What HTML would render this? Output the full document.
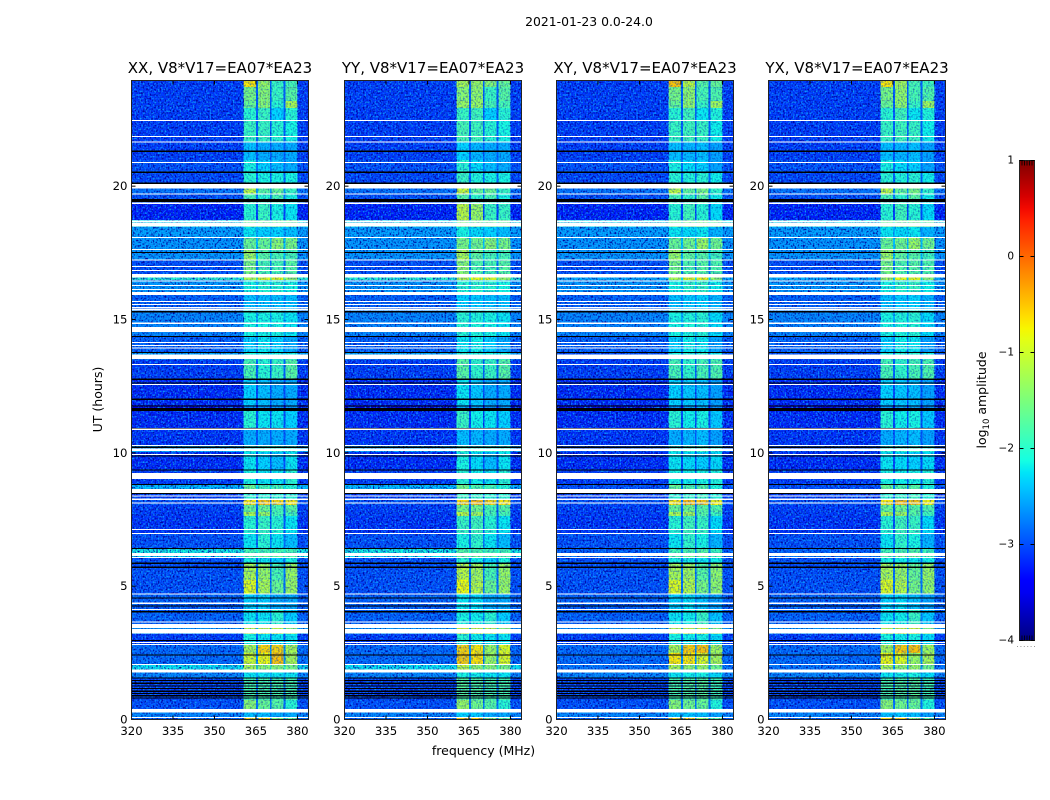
<!DOCTYPE html>
<html lang="en">
<head>
<meta charset="utf-8">
<title>2021-01-23 0.0-24.0</title>
<style>
html,body{margin:0;padding:0;background:#fff;}
svg{display:block;font-family:"DejaVu Sans","Liberation Sans",sans-serif;fill:#000;}
</style>
</head>
<body>
<svg id="chart" xmlns="http://www.w3.org/2000/svg" width="1050" height="800" viewBox="0 0 1050 800">
  <defs>
    <filter id="noise-dark" x="0" y="0" width="1" height="1" color-interpolation-filters="sRGB">
      <feTurbulence type="fractalNoise" baseFrequency="0.6 0.55" numOctaves="1" seed="3"/>
      <feColorMatrix type="matrix" values="0 0 0 0 0  0 0 0 0 0  0 0 0 0 0.6  3.4 0 0 0 -1.55"/>
    </filter>
    <filter id="noise-light" x="0" y="0" width="1" height="1" color-interpolation-filters="sRGB">
      <feTurbulence type="fractalNoise" baseFrequency="0.6 0.55" numOctaves="1" seed="11"/>
      <feColorMatrix type="matrix" values="0 0 0 0 0.05  0 0 0 0 0.62  0 0 0 0 1  0 3.4 0 0 -1.65"/>
    </filter>
    <linearGradient id="jet-gradient" x1="0" y1="1" x2="0" y2="0"></linearGradient>
  </defs>
  <text x="589" y="26" font-size="12.4" text-anchor="middle">2021-01-23 0.0-24.0</text>
  <text x="483.5" y="755" font-size="12.5" text-anchor="middle">frequency (MHz)</text>
  <text transform="translate(102,399.5) rotate(-90)" font-size="12.5" text-anchor="middle">UT (hours)</text>
  <text transform="translate(986,400) rotate(-90)" font-size="12.5" text-anchor="middle">log<tspan font-size="8.5" dy="3">10</tspan><tspan dy="-3"> amplitude</tspan></text>
  <g id="panels"></g>
  <g id="colorbar"></g>
</svg>
<script>
// Panels
const panelTitles = ["XX, V8*V17=EA07*EA23", "YY, V8*V17=EA07*EA23", "XY, V8*V17=EA07*EA23", "YX, V8*V17=EA07*EA23"];
const xTickValues = [320, 335, 350, 365, 380];
const yTickValues = [0, 5, 10, 15, 20];
const colorTickValues = [-4, -3, -2, -1, 0, 1];
const colorTickLabels = ["\u22124", "\u22123", "\u22122", "\u22121", "0", "1"];

// Frequency structure (MHz)
const bandStartMHz = [360.5, 365.7, 370.7, 375.7];
const bandEndMHz = [365.0, 370.0, 375.0, 380.0];

// Time segments (UT hours, lower edge) with log10 amplitude levels
const segmentStartUT = [0, 0.06, 0.28, 0.73, 1.55, 1.8, 2.04, 2.5, 2.8, 3.2, 3.43, 4.1, 4.7, 5.24, 5.87, 6.07, 6.2, 6.4, 7.0, 7.63, 7.78, 8.04, 8.23, 8.65, 8.8, 9.35, 10.03, 10.3, 10.9, 11.56, 11.8, 12.73, 13.5, 13.78, 14.38, 15.35, 15.92, 16.48, 16.67, 17.23, 17.64, 18.09, 18.47, 18.73, 19.36, 19.7, 19.93, 20.53, 20.98, 21.65, 22.47, 22.93, 23.2, 23.72];
const backgroundLevel = [-2.9, -2.7, -3, -3.05, -2.7, -2.2, -2.85, -2.85, -3.1, -2.6, -2.9, -2.9, -3, -3, -3, -2.2, -2.1, -3, -3.15, -3.1, -3.1, -3, -3.1, -2.4, -3.1, -3.2, -2.5, -3.15, -3.2, -3.6, -3.2, -3.1, -2.5, -2.9, -2.7, -2.9, -2.6, -2, -3, -2.6, -2.6, -2.55, -2.2, -3.25, -3, -2.8, -3.05, -3, -3.1, -3.1, -3.1, -3.1, -3.1, -3.1];
const band1Level = [-0.6, -2.4, -1.4, -1.8, -2.2, -1.2, -1, -1.2, -2.1, -1.1, -2.2, -2.3, -0.9, -1.2, -2.1, -1.7, -1.8, -2.2, -2, -1.2, -1.6, -0.7, -2, -1.6, -2.1, -2.2, -2, -2.5, -2, -2.6, -2.3, -1.8, -2.1, -2.3, -2.1, -2.4, -2.1, -1.2, -1.5, -1.3, -1.6, -2.2, -1.6, -2, -1.8, -1.1, -2, -2.1, -2.4, -1.9, -2, -1.6, -1.5, -0.7];
const band2Level = [-0.6, -2.4, -1.6, -1.8, -2.2, -1.4, -0.8, -0.6, -2.2, -1.1, -2.2, -2.3, -1.2, -1.3, -2.2, -1.6, -1.8, -2, -1.9, -1.3, -1.6, -0.5, -2, -1.8, -2.2, -2.3, -2, -2.5, -2.2, -2.6, -2.4, -2, -2.1, -2.2, -2.1, -2.4, -2, -0.9, -1.8, -1.7, -1.6, -2.3, -1.6, -1.9, -2, -1.7, -2.1, -2.3, -2.5, -1.9, -1.9, -1.4, -1.4, -1.3];
const band3Level = [-1.4, -2.5, -1.7, -1.8, -2.2, -1.4, -0.5, -0.6, -2.2, -1.1, -2, -2.5, -1.6, -1.8, -2.3, -1.6, -1.8, -2.2, -2, -1.8, -1.8, -0.6, -2, -1.8, -2.2, -2.4, -2, -2.5, -2.2, -2.6, -2.5, -1.9, -2.1, -2.3, -2.1, -2.4, -2, -0.9, -1.8, -1.8, -1.4, -2.3, -1.6, -2.1, -1.8, -1.6, -2.1, -2.4, -2.5, -2, -2.3, -2, -1.9, -1.9];
const band4Level = [-1.6, -2.5, -2, -1.8, -2.2, -1.5, -1.2, -1.2, -2.2, -1.4, -2.3, -2.5, -1.3, -1.3, -2.1, -1.7, -1.8, -2.4, -2.2, -1.8, -1.7, -0.7, -2, -2, -2, -2.2, -2, -2.5, -2.3, -2.6, -2.5, -1.7, -2.1, -2.5, -2.2, -2.4, -2.1, -1.3, -1.7, -1.8, -1.5, -2.4, -1.6, -2.2, -2.1, -1.9, -2.1, -2.5, -2.5, -2.1, -2, -1.2, -1.7, -1.8];

// Per-polarisation band offsets (log10 amplitude)
const polBandOffsetXX = [0, 0, 0, 0];
const polBandOffsetYY = [0.1, 0.05, 0, 0];
const polBandOffsetXY = [0, 0.05, 0.1, -0.05];
const polBandOffsetYX = [0, 0.05, 0.1, -0.05];
const polBandOffsets = [polBandOffsetXX, polBandOffsetYY, polBandOffsetXY, polBandOffsetYX];

// Polarisation-specific segments that differ from the XX reading
const overridePanel = [1, 1, 1, 1, 1, 2, 2, 3, 3];
const overrideSegmentUT = [23.72, 22.93, 18.73, 2.04, 2.5, 23.72, 2.04, 2.04, 5.24];
const overrideBand1 = [-1.2, -1.3, -1.1, -0.55, -0.6, -0.5, -0.7, -0.8, -1.2];
const overrideBand2 = [-1.3, -1.3, -1.3, -0.65, -0.7, -1.1, -0.7, -0.9, -1.3];
const overrideBand3 = [-1.4, -1.8, -1.9, -1.3, -1.3, -1.7, -0.9, -1.3, -1.6];
const overrideBand4 = [-1.6, -1.8, -1.9, -0.9, -0.9, -1.6, -1.2, -1.2, -1.3];

// Bright background rows are much weaker in the cross-polarisations
const crossPolPanels = [2, 3];
const crossPolRowUT = [1.8, 6.07, 6.2, 8.65, 10.03, 13.5, 16.48];
const crossPolRowBackground = [-2.8, -2.8, -2.9, -3, -3, -3, -2.5];

// Flagged (no data, white) intervals: lower edge and length in hours
const flaggedStartUT = [0.05, 0.27, 1.77, 2.04, 2.8, 2.86, 3.22, 3.43, 3.63, 4.11, 4.34, 4.68, 6.05, 6.14, 6.96, 7.11, 8.1, 8.24, 8.36, 8.5, 9.02, 9.21, 9.91, 10.06, 10.26, 10.86, 12.55, 13.3, 13.52, 13.91, 14, 14.11, 14.53, 14.84, 15.34, 15.42, 15.54, 15.65, 15.92, 16.11, 16.26, 16.43, 16.57, 16.81, 16.96, 17.21, 17.61, 18.06, 18.48, 18.64, 19.34, 19.68, 19.92, 20.86, 21.63, 21.85, 22.44];
const flaggedLengthH = [0.04, 0.12, 0.11, 0.04, 0.04, 0.04, 0.18, 0.16, 0.04, 0.04, 0.04, 0.04, 0.04, 0.1, 0.04, 0.04, 0.04, 0.04, 0.04, 0.14, 0.18, 0.04, 0.04, 0.1, 0.04, 0.05, 0.04, 0.04, 0.16, 0.04, 0.04, 0.04, 0.18, 0.04, 0.05, 0.04, 0.04, 0.04, 0.11, 0.04, 0.04, 0.04, 0.13, 0.04, 0.04, 0.04, 0.04, 0.04, 0.14, 0.075, 0.04, 0.04, 0.16, 0.04, 0.04, 0.04, 0.04];

// Near-zero (black) intervals: lower edge and length in hours
const blackStartUT = [0.78, 0.87, 0.96, 1.04, 1.14, 1.23, 1.34, 1.44, 1.53, 2.4, 2.95, 4.02, 4.24, 4.53, 5.69, 5.84, 6.4, 8.46, 8.79, 9.34, 9.86, 10.19, 10.89, 11.56, 11.74, 11.99, 12.6, 12.74, 13.75, 14.34, 15.26, 17.5, 19.41, 20.08, 20.49, 21.29];
const blackLengthH = [0.04, 0.04, 0.04, 0.04, 0.04, 0.04, 0.04, 0.04, 0.04, 0.04, 0.04, 0.04, 0.04, 0.04, 0.04, 0.04, 0.04, 0.04, 0.04, 0.04, 0.04, 0.04, 0.04, 0.12, 0.04, 0.04, 0.03, 0.04, 0.04, 0.04, 0.055, 0.04, 0.11, 0.055, 0.055, 0.04];

// Layout
const panelLefts = [131.5, 344.5, 556.5, 768.5];
const panelWidth = 177;
const plotTop = 80.5;
const plotBottom = 719.5;
const pixelsPerHour = 640 / 24;
const xMin = 320, xMax = 384, utMax = 24;
const levelMin = -4, levelMax = 1;
const cbLeft = 1019.5, cbRight = 1034.5, cbTop = 160.5, cbBottom = 640.5;
const SVG_NS = "http://www.w3.org/2000/svg";

function xScale(panelLeft, mhz) { return panelLeft + (mhz - xMin) / (xMax - xMin) * panelWidth; }
function yScale(ut) { return Math.max(plotTop, plotBottom - ut * pixelsPerHour); }
function cbScale(level) { return cbBottom - (level - levelMin) / (levelMax - levelMin) * (cbBottom - cbTop); }

function interp(stops, t) {
  for (let i = 1; i < stops.length; i++) {
    if (t <= stops[i][0]) {
      const a = stops[i - 1], b = stops[i];
      return a[1] + (b[1] - a[1]) * (t - a[0]) / (b[0] - a[0]);
    }
  }
  return stops[stops.length - 1][1];
}
const jetR = [[0, 0], [0.35, 0], [0.66, 1], [0.89, 1], [1, 0.5]];
const jetG = [[0, 0], [0.125, 0], [0.375, 1], [0.64, 1], [0.91, 0], [1, 0]];
const jetB = [[0, 0.5], [0.11, 1], [0.34, 1], [0.65, 0], [1, 0]];
function jet(t) {
  t = Math.max(0, Math.min(1, t));
  return "rgb(" + Math.round(interp(jetR, t) * 255) + "," + Math.round(interp(jetG, t) * 255) + "," + Math.round(interp(jetB, t) * 255) + ")";
}
function levelColor(level) { return jet((level - levelMin) / (levelMax - levelMin)); }

function svgEl(tag, attrs, parent) {
  const el = document.createElementNS(SVG_NS, tag);
  for (const k in attrs) el.setAttribute(k, attrs[k]);
  parent.appendChild(el);
  return el;
}

function segmentBands(panelIndex, segIndex) {
  let vals = [band1Level[segIndex], band2Level[segIndex], band3Level[segIndex], band4Level[segIndex]];
  for (let i = 0; i < overridePanel.length; i++) {
    if (overridePanel[i] === panelIndex && overrideSegmentUT[i] === segmentStartUT[segIndex]) {
      return [overrideBand1[i], overrideBand2[i], overrideBand3[i], overrideBand4[i]];
    }
  }
  const off = polBandOffsets[panelIndex];
  return vals.map(function (v, b) { return v + off[b]; });
}

function segmentBackground(panelIndex, segIndex) {
  if (crossPolPanels.indexOf(panelIndex) >= 0) {
    const r = crossPolRowUT.indexOf(segmentStartUT[segIndex]);
    if (r >= 0) return crossPolRowBackground[r];
  }
  return backgroundLevel[segIndex];
}

function drawNoise(g, x0, x1, opacity) {
  const dark = svgEl("rect", { x: x0, y: plotTop, width: x1 - x0, height: plotBottom - plotTop, filter: "url(#noise-dark)", opacity: opacity }, g);
  
  
  const light = svgEl("rect", { x: x0, y: plotTop, width: x1 - x0, height: plotBottom - plotTop, filter: "url(#noise-light)", opacity: opacity }, g);
  
  
}

function drawPanel(panelIndex) {
  const left = panelLefts[panelIndex];
  const right = left + panelWidth;
  const root = document.getElementById("panels");
  const g = svgEl("g", {}, root);
  
  

  const cells = svgEl("g", { "shape-rendering": "crispEdges" }, g);
  
  

  for (let s = 0; s < segmentStartUT.length; s++) {
    const t0 = segmentStartUT[s];
    const t1 = s + 1 < segmentStartUT.length ? segmentStartUT[s + 1] : utMax;
    const yTop = yScale(t1);
    const h = yScale(t0) - yTop;
    const bg = segmentBackground(panelIndex, s);
    const bands = segmentBands(panelIndex, s);
    const edges = [xMin];
    const levels = [];
    for (let b = 0; b < bandStartMHz.length; b++) {
      edges.push(bandStartMHz[b]);
      levels.push(b === 0 ? bg : Math.min(bg + 0.2, bands[b] - 0.2));
      edges.push(bandEndMHz[b]);
      levels.push(bands[b]);
    }
    levels.push(bg);
    edges.push(xMax);
    for (let c = 0; c < levels.length; c++) {
      const x0 = xScale(left, edges[c]);
      const x1 = xScale(left, edges[c + 1]);
      const cell = svgEl("rect", { x: x0, y: yTop, width: x1 - x0, height: h, fill: levelColor(levels[c]) }, cells);
      
      
    }
  }

  const bandsLeft = xScale(left, bandStartMHz[0]);
  const bandsRight = xScale(left, bandEndMHz[bandEndMHz.length - 1]);
  drawNoise(g, left, bandsLeft, 1);
  drawNoise(g, bandsLeft, bandsRight, 0.45);
  drawNoise(g, bandsRight, right, 1);

  const masks = svgEl("g", { "shape-rendering": "crispEdges" }, g);
  
  
  for (let i = 0; i < blackStartUT.length; i++) {
    const yT = yScale(blackStartUT[i] + blackLengthH[i]);
    const line = svgEl("rect", { x: left, y: yT, width: panelWidth, height: Math.max(1, yScale(blackStartUT[i]) - yT), fill: "#000" }, masks);
    
    
  }
  for (let i = 0; i < flaggedStartUT.length; i++) {
    const yT = yScale(flaggedStartUT[i] + flaggedLengthH[i]);
    const line = svgEl("rect", { x: left, y: yT, width: panelWidth, height: Math.max(1, yScale(flaggedStartUT[i]) - yT), fill: "#fff" }, masks);
    
    
  }

  // Ticks
  xTickValues.forEach(function (v) {
    const x = xScale(left, v);
    const tickBottom = svgEl("line", { x1: x, x2: x, y1: plotBottom, y2: plotBottom - 4, stroke: "#000", "stroke-width": 1 }, g);
    
    
    const tickTop = svgEl("line", { x1: x, x2: x, y1: plotTop, y2: plotTop + 4, stroke: "#000", "stroke-width": 1 }, g);
    
    
    const label = svgEl("text", { x: x, y: 735, "font-size": 11.7, "text-anchor": "middle" }, g);
    
    
    label.textContent = String(v);
  });
  yTickValues.forEach(function (v) {
    const y = yScale(v);
    const tickLeft = svgEl("line", { x1: left, x2: left + 4, y1: y, y2: y, stroke: "#000", "stroke-width": 1 }, g);
    
    
    const tickRight = svgEl("line", { x1: right, x2: right - 4, y1: y, y2: y, stroke: "#000", "stroke-width": 1 }, g);
    
    
    const label = svgEl("text", { x: left - 4, y: y + 4, "font-size": 11.7, "text-anchor": "end" }, g);
    
    
    label.textContent = String(v);
  });

  const frame = svgEl("rect", { x: left, y: plotTop, width: panelWidth, height: plotBottom - plotTop, fill: "none", stroke: "#222", "stroke-width": 1 }, g);
  
  

  const title = svgEl("text", { x: left + panelWidth / 2, y: 73, "font-size": 15, "text-anchor": "middle" }, g);
  
  
  title.textContent = panelTitles[panelIndex];
}

function drawColorbar() {
  const g = document.getElementById("colorbar");
  const grad = document.getElementById("jet-gradient");
  for (let i = 0; i <= 40; i++) {
    const stop = svgEl("stop", { offset: i / 40, "stop-color": jet(i / 40) }, grad);
    
    
  }
  const bar = svgEl("rect", { x: cbLeft, y: cbTop, width: cbRight - cbLeft, height: cbBottom - cbTop, fill: "url(#jet-gradient)", stroke: "#222", "stroke-width": 1 }, g);
  
  
  colorTickValues.forEach(function (v, i) {
    const y = cbScale(v);
    const tickLeft = svgEl("line", { x1: cbLeft, x2: cbLeft + 4, y1: y, y2: y, stroke: "#000" }, g);
    
    
    const tickRight = svgEl("line", { x1: cbRight, x2: cbRight - 4, y1: y, y2: y, stroke: "#000" }, g);
    
    
    const label = svgEl("text", { x: 1014, y: y + 3, "font-size": 10.5, "text-anchor": "end" }, g);
    
    
    label.textContent = colorTickLabels[i];
  });
  for (let k = 1; k <= 5; k++) {
    const x = cbLeft + k * (cbRight - cbLeft) / 6;
    const markTop = svgEl("line", { x1: x, x2: x, y1: cbTop, y2: cbTop + 5, stroke: "#000", "stroke-width": 0.8 }, g);
    
    
    const markBottom = svgEl("line", { x1: x, x2: x, y1: cbBottom, y2: cbBottom - 5, stroke: "#000", "stroke-width": 0.8 }, g);
    
    
  }
  const dots = svgEl("line", { x1: 1017, x2: 1035, y1: 646.5, y2: 646.5, stroke: "#999", "stroke-width": 1, "stroke-dasharray": "1 2.4" }, g);
  
  
}

panelTitles.forEach(function (_, i) { drawPanel(i); });
drawColorbar();
</script>
</body>
</html>
